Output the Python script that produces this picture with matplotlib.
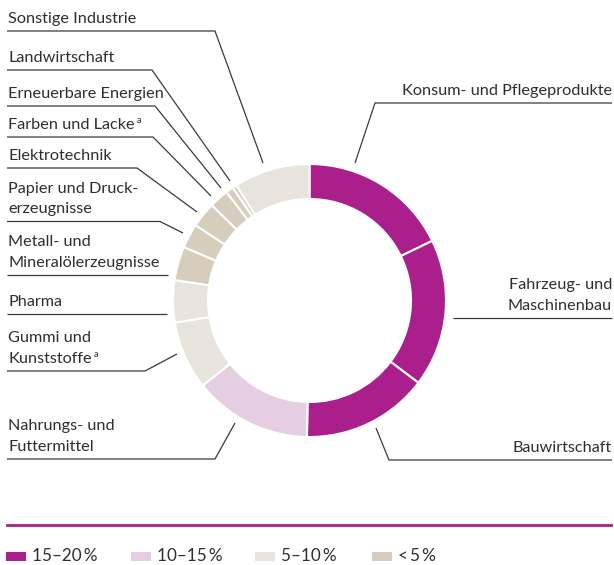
import matplotlib
matplotlib.use('Agg')
import matplotlib.pyplot as plt
from matplotlib.patches import Rectangle

plt.rcParams['font.family'] = ['Lato', 'DejaVu Sans']

# DATEN (Anteile in %, im Uhrzeigersinn ab 12 Uhr)
branchen = ['Konsum- und Pflegeprodukte', 'Fahrzeug- und Maschinenbau', 'Bauwirtschaft',
            'Nahrungs- und Futtermittel', 'Gummi und Kunststoffe', 'Pharma',
            'Metall- und Mineralölerzeugnisse', 'Papier und Druckerzeugnisse', 'Elektrotechnik',
            'Farben und Lacke', 'Erneuerbare Energien', 'Landwirtschaft', 'Sonstige Industrie']
anteile = [17.8, 17.5, 15.0, 14.0, 8.1, 5.0, 4.0, 2.9, 3.0, 2.3, 0.9, 0.5, 9.0]

klassen_labels = ['15\u201320\u2009%', '10\u201315\u2009%', '5\u201310\u2009%', '<\u20095\u2009%']
klassen_farben = ['#AA1F8C', '#E5CDE2', '#E8E4DD', '#D6CDBD']
grenzen = [15, 10, 5, 0]

def klasse(v):
    for i, g in enumerate(grenzen):
        if v >= g:
            return i
    return len(grenzen) - 1

farben = [klassen_farben[klasse(v)] for v in anteile]

# LAYOUT (Pixelkoordinaten, y nach unten)
W, H = 614, 565
text_col = '#2e2e2e'
line_col = '#3a3a3a'
fs = 11.7

def Y(py):
    return H - py

fig = plt.figure(figsize=(W / 100, H / 100), dpi=100)
ax = fig.add_axes([0, 0, 1, 1])

ax.pie(anteile, colors=farben, startangle=90, counterclock=False,
       center=(309.5, Y(300.5)), radius=136.5,
       wedgeprops=dict(width=35, edgecolor='white', linewidth=1.5))
ax.set_xlim(0, W)
ax.set_ylim(0, H)
ax.set_aspect('auto')
ax.axis('off')

# Beschriftungen: (Zeilen, Seite, Unterstrich-y, Knick-x, Endpunkt, Fußnote)
beschriftung = [
    (['Sonstige Industrie'], 'l', 31, 215, (263, 163), False),
    (['Landwirtschaft'], 'l', 70, 152, (230, 181), False),
    (['Erneuerbare Energien'], 'l', 106, 155, (221, 188), False),
    (['Farben und Lacke'], 'l', 137, 153, (211, 196), True),
    (['Elektrotechnik'], 'l', 168, 137, (197, 212), False),
    (['Papier und Druck-', 'erzeugnisse'], 'l', 221.5, 160, (183, 233), False),
    (['Metall- und', 'Mineralölerzeugnisse'], 'l', 275, 168, None, False),
    (['Pharma'], 'l', 314, 167, None, False),
    (['Gummi und', 'Kunststoffe'], 'l', 371, 145, (177, 354), True),
    (['Nahrungs- und', 'Futtermittel'], 'l', 459, 215, (235, 423), False),
    (['Konsum- und Pflegeprodukte'], 'r', 103, 375, (355, 163), False),
    (['Fahrzeug- und', 'Maschinenbau'], 'r', 318, 453, None, False),
    (['Bauwirtschaft'], 'r', 460, 389, (376, 428), False),
]

renderer = fig.canvas.get_renderer()
for zeilen, seite, ly, kx, ende, fussnote in beschriftung:
    n = len(zeilen)
    for i, z in enumerate(zeilen):
        by = ly - 8 - 21 * (n - 1 - i)
        if seite == 'l':
            t = ax.text(8, Y(by), z, ha='left', va='baseline', fontsize=fs, color=text_col)
        else:
            t = ax.text(612, Y(by), z, ha='right', va='baseline', fontsize=fs, color=text_col)
        if fussnote and i == n - 1:
            bb = t.get_window_extent(renderer)
            ax.text(bb.x1 + 2, Y(by) + 6, 'a', ha='left', va='baseline',
                    fontsize=6.5, color=text_col)
    if seite == 'l':
        xs = [7, kx]
    else:
        xs = [612, kx]
    ys = [ly, ly]
    if ende is not None:
        xs.append(ende[0])
        ys.append(ende[1])
    ax.plot(xs, [Y(v) for v in ys], color=line_col, lw=0.9, solid_capstyle='butt')

# Legende
ax.plot([7, 611], [Y(525), Y(525)], color='#AA1F8C', lw=2)
leg_x = [6, 131, 255, 372]
for x0, lab, col in zip(leg_x, klassen_labels, klassen_farben):
    ax.add_patch(Rectangle((x0, Y(561)), 20, 9, facecolor=col, edgecolor='none'))
    ax.text(x0 + 26, Y(561), lab, ha='left', va='baseline', fontsize=12.3, color=text_col)

fig.savefig('out.png', dpi=100)
